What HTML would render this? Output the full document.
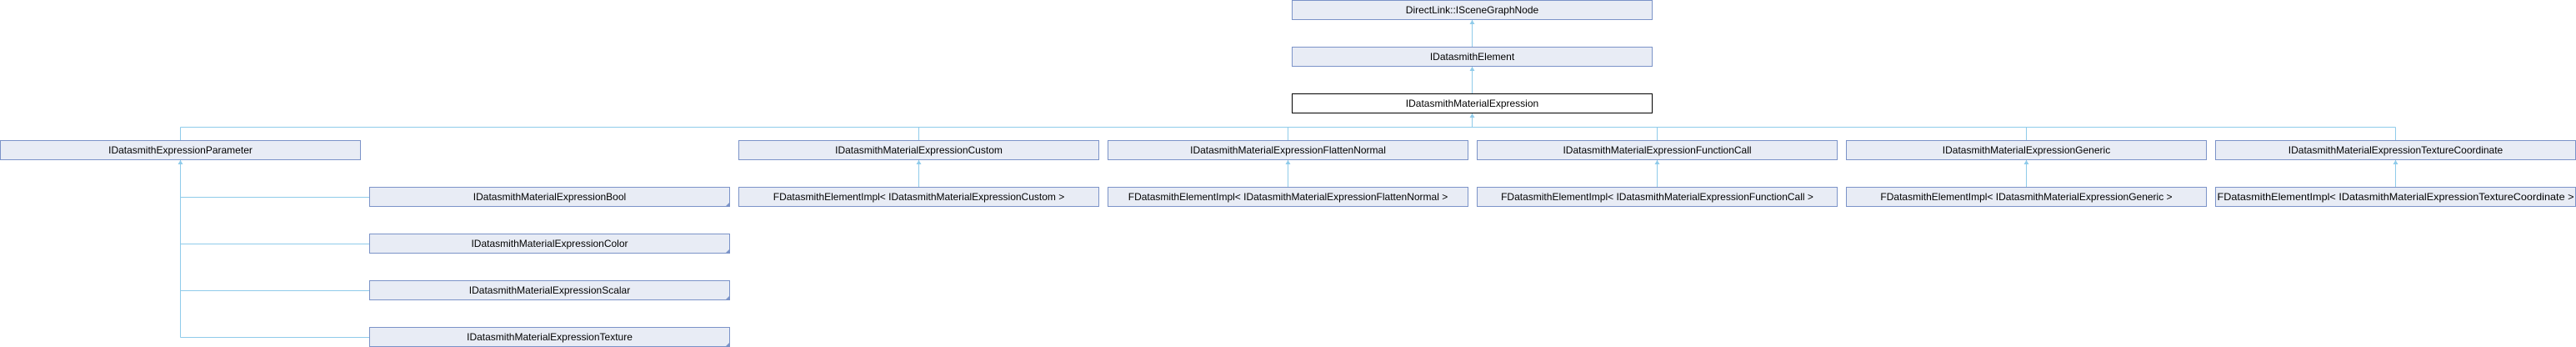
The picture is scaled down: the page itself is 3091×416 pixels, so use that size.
<!DOCTYPE html>
<html><head><meta charset="utf-8"><style>
html,body{margin:0;padding:0;background:#fff;}
svg{display:block;}
text{font-family:"Liberation Sans",Arial,sans-serif;font-size:12px;fill:#000;}
.b{fill:#E8ECF5;stroke:#7B93C8;stroke-width:1;}
.m{fill:#fff;stroke:#000;stroke-width:1;}
.l{stroke:#8FCBEA;stroke-width:1;fill:none;}
.a{fill:#8FCBEA;}
.c{fill:#7B93C8;}
</style></head><body>
<svg width="3091" height="416" viewBox="0 0 3091 416" xmlns="http://www.w3.org/2000/svg">
<!-- connectors -->
<path class="l" d="M1766.5 24 V56 M1766.5 80 V112 M1766.5 136 V152.5 M216.5 152.5 H2874.5 M216.5 152.5 V168 M1102.5 152.5 V168 M1545.5 152.5 V168 M1988.5 152.5 V168 M2431.5 152.5 V168 M2874.5 152.5 V168"/>
<path class="l" d="M216.5 192 V404.5 M216.5 236.5 H443 M216.5 292.5 H443 M216.5 348.5 H443 M216.5 404.5 H443"/>
<path class="l" d="M1102.5 192 V224 M1545.5 192 V224 M1988.5 192 V224 M2431.5 192 V224 M2874.5 192 V224"/>
<!-- arrowheads -->
<g class="a">
<path d="M1766.5 24 l-3 5 h6z"/><path d="M1766.5 80 l-3 5 h6z"/><path d="M1766.5 136 l-3 5 h6z"/>
<path d="M216.5 192 l-3 5 h6z"/><path d="M1102.5 192 l-3 5 h6z"/><path d="M1545.5 192 l-3 5 h6z"/>
<path d="M1988.5 192 l-3 5 h6z"/><path d="M2431.5 192 l-3 5 h6z"/><path d="M2874.5 192 l-3 5 h6z"/>
</g>
<!-- boxes -->
<rect class="b" x="1550.5" y="0.5" width="432" height="23"/>
<text x="1766.5" y="16" text-anchor="middle">DirectLink::ISceneGraphNode</text>
<rect class="b" x="1550.5" y="56.5" width="432" height="23"/>
<text x="1766.5" y="72" text-anchor="middle">IDatasmithElement</text>
<rect class="m" x="1550.5" y="112.5" width="432" height="23"/>
<text x="1766.5" y="128" text-anchor="middle">IDatasmithMaterialExpression</text>

<rect class="b" x="0.5" y="168.5" width="432" height="23"/>
<text x="216.5" y="184" text-anchor="middle">IDatasmithExpressionParameter</text>
<rect class="b" x="886.5" y="168.5" width="432" height="23"/>
<text x="1102.5" y="184" text-anchor="middle">IDatasmithMaterialExpressionCustom</text>
<rect class="b" x="1329.5" y="168.5" width="432" height="23"/>
<text x="1545.5" y="184" text-anchor="middle">IDatasmithMaterialExpressionFlattenNormal</text>
<rect class="b" x="1772.5" y="168.5" width="432" height="23"/>
<text x="1988.5" y="184" text-anchor="middle">IDatasmithMaterialExpressionFunctionCall</text>
<rect class="b" x="2215.5" y="168.5" width="432" height="23"/>
<text x="2431.5" y="184" text-anchor="middle">IDatasmithMaterialExpressionGeneric</text>
<rect class="b" x="2658.5" y="168.5" width="432" height="23"/>
<text x="2874.5" y="184" text-anchor="middle">IDatasmithMaterialExpressionTextureCoordinate</text>

<rect class="b" x="886.5" y="224.5" width="432" height="23"/>
<text x="1102.5" y="240" text-anchor="middle">FDatasmithElementImpl&lt; IDatasmithMaterialExpressionCustom &gt;</text>
<rect class="b" x="1329.5" y="224.5" width="432" height="23"/>
<text x="1545.5" y="240" text-anchor="middle">FDatasmithElementImpl&lt; IDatasmithMaterialExpressionFlattenNormal &gt;</text>
<rect class="b" x="1772.5" y="224.5" width="432" height="23"/>
<text x="1988.5" y="240" text-anchor="middle">FDatasmithElementImpl&lt; IDatasmithMaterialExpressionFunctionCall &gt;</text>
<rect class="b" x="2215.5" y="224.5" width="432" height="23"/>
<text x="2431.5" y="240" text-anchor="middle">FDatasmithElementImpl&lt; IDatasmithMaterialExpressionGeneric &gt;</text>
<rect class="b" x="2658.5" y="224.5" width="432" height="23"/>
<text x="2874.5" y="240" text-anchor="middle" textLength="428" lengthAdjust="spacingAndGlyphs">FDatasmithElementImpl&lt; IDatasmithMaterialExpressionTextureCoordinate &gt;</text>

<rect class="b" x="443.5" y="224.5" width="432" height="23"/>
<text x="659.5" y="240" text-anchor="middle">IDatasmithMaterialExpressionBool</text>
<rect class="b" x="443.5" y="280.5" width="432" height="23"/>
<text x="659.5" y="296" text-anchor="middle">IDatasmithMaterialExpressionColor</text>
<rect class="b" x="443.5" y="336.5" width="432" height="23"/>
<text x="659.5" y="352" text-anchor="middle">IDatasmithMaterialExpressionScalar</text>
<rect class="b" x="443.5" y="392.5" width="432" height="23"/>
<text x="659.5" y="408" text-anchor="middle">IDatasmithMaterialExpressionTexture</text>
<g class="c">
<path d="M876 242 v6 h-6z"/><path d="M876 298 v6 h-6z"/><path d="M876 354 v6 h-6z"/><path d="M876 410 v6 h-6z"/>
</g>
</svg>
</body></html>
